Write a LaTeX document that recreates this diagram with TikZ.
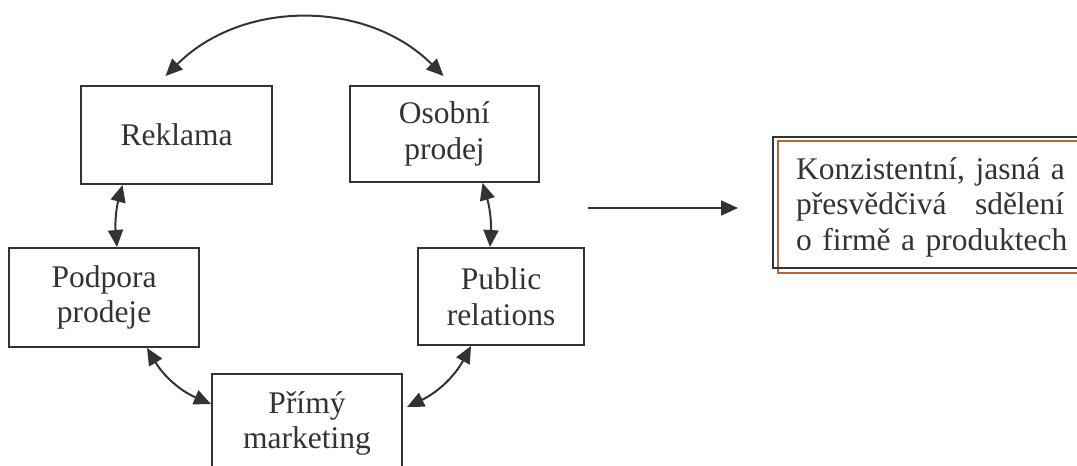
\documentclass[tikz,border=0pt]{standalone}
\usepackage{fontspec}
\setmainfont{Liberation Serif}
\usetikzlibrary{arrows.meta}
\definecolor{ink}{HTML}{333333}
\definecolor{rust}{HTML}{B0653A}
\tikzset{
  box/.style={draw=ink, line width=2pt, rectangle, inner sep=0pt, align=center,
    text=ink, font=\fontsize{31.5}{35.5}\selectfont},
  conn/.style={draw=ink, line width=2pt, {Triangle[length=17pt,width=15pt]}-{Triangle[length=17pt,width=15pt]}},
  oneway/.style={draw=ink, line width=2pt, -{Triangle[length=17pt,width=15pt]}}
}
\begin{document}
\begin{tikzpicture}[x=1pt,y=-1pt]
\useasboundingbox (0,0) rectangle (1077,466);
\clip (0,0) rectangle (1077,466);
\node[box, minimum width=191pt, minimum height=98pt] (rek) at (176.5,135) {Reklama};
\node[box, minimum width=189pt, minimum height=96pt] (oso) at (444.5,134) {Osobní\\prodej};
\node[box, minimum width=190pt, minimum height=99pt] (pod) at (104,297.5) {Podpora\\prodeje};
\node[box, minimum width=166pt, minimum height=97pt] (pub) at (501,296.5) {Public\\relations};
\node[box, minimum width=190pt, minimum height=99pt] (pri) at (307,423.5) {Přímý\\marketing};
% right box
\draw[rust, line width=2pt] (778,141) rectangle (1095,273);
\draw[ink, line width=2pt] (773,137) rectangle (1095,268);
\node[anchor=north west, inner sep=0pt, text width=320pt, align=left, text=ink,
  font=\fontsize{31.5}{35.5}\selectfont] (msg) at (796,157)
  {Konzistentní, jasná a\\\makebox[268pt][l]{přesvědčivá\hfill sdělení}\\o firmě a produktech};
\coordinate (a1) at (588,208);
\coordinate (a2) at (738,208);
\draw[oneway] (a1) -- (a2);
% connectors
\draw[conn] ([xshift=-11pt,yshift=9pt]rek.north) to[out=45,in=135] ([xshift=-1pt,yshift=9pt]oso.north);
\draw[conn] ([xshift=-54pt]rek.south) to[bend right=10] ([xshift=13pt]pod.north);
\draw[conn] ([xshift=38pt]oso.south) to[bend left=10] ([xshift=-11pt]pub.north);
\draw[conn] ([xshift=-53pt]pod.south east) to[bend right=18] ([yshift=-31pt]pri.north west);
\draw[conn] ([xshift=-114pt]pub.south east) to[bend left=18] ([xshift=4pt,yshift=-34pt]pri.north east);
\end{tikzpicture}
\end{document}
